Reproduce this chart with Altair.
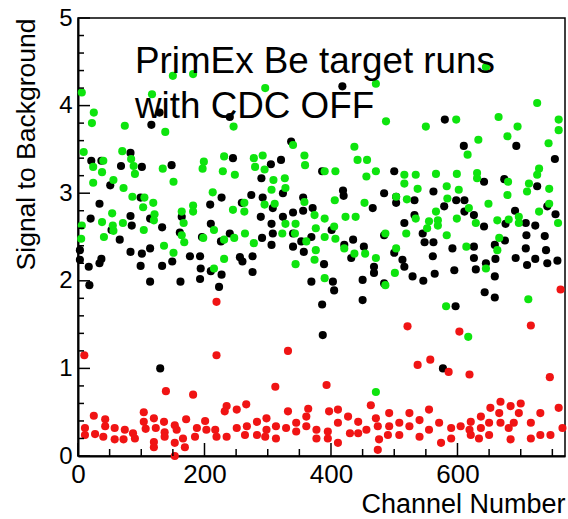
import altair as alt
import pandas as pd

# ---------------- data ----------------
black_ch = [116,129,21,37,68,83,101,148,51,34,99,20,83,85,53,66,114,133,3,3,37,34,17,83,101,99,114,133,149,18,114,130,
            245,305,290,227,209,274,259,292,289,306,164,161,210,196,226,240,291,306,177,193,194,193,162,210,227,223,256,260,276,276,240,
            418,337,321,386,419,420,324,356,308,356,340,371,324,340,369,401,308,353,340,357,421,435,432,452,389,369,403,405,450,450,386,387,
            580,610,500,484,503,503,532,562,598,611,611,466,579,516,532,545,548,562,592,484,500,513,516,561,468,468,484,529,546,564,595,597,577,
            693,754,642,674,726,742,626,642,676,691,708,723,755,709,738,675,659,626,626,660,692,708,710,723,740,742,758,629,645,659,643,659]
black_val = [3.78,3.92,3.37,3.37,3.31,3.46,3.30,3.32,3.09,2.88,2.95,2.71,2.74,2.63,2.58,2.47,2.71,2.61,2.35,2.24,2.25,2.20,2.16,2.33,2.31,2.17,2.37,2.17,2.22,1.95,1.99,1.00,
             3.40,3.33,3.17,2.95,2.87,2.98,2.89,2.95,2.73,2.65,2.73,2.55,2.65,2.50,2.45,2.54,2.49,2.41,2.28,2.28,2.14,2.02,1.99,2.11,2.07,1.93,2.27,2.22,2.28,2.10,3.87,
             4.22,3.59,3.38,3.25,3.03,2.97,3.00,2.95,2.83,2.80,2.78,2.83,2.73,2.54,2.50,2.58,2.54,2.45,2.39,2.33,2.41,2.47,2.26,2.39,2.19,1.99,1.99,1.89,2.01,1.78,1.73,1.38,
             3.84,3.54,3.25,3.00,2.96,2.89,2.92,3.02,2.92,2.92,2.79,2.83,2.85,2.66,2.75,2.54,2.44,2.44,2.37,2.52,2.32,2.24,2.16,2.28,2.16,2.09,1.97,2.05,2.00,2.08,2.12,1.71,1.00,
             3.54,3.39,3.13,3.16,3.08,2.85,2.75,2.62,2.65,2.80,2.66,2.63,2.76,2.52,2.51,2.46,2.41,2.39,2.26,2.25,2.26,2.37,2.18,2.25,2.35,2.20,2.23,2.13,2.20,2.05,1.87,1.81]

green_ch = [6,150,182,117,25,22,74,138,9,70,24,40,38,84,88,90,24,56,72,134,151,86,105,119,103,121,120,54,38,71,55,56,6,5,41,104,136,151,
            296,246,231,199,197,229,248,278,292,280,295,309,213,182,182,164,167,164,168,198,215,231,247,245,263,263,264,278,295,306,231,215,
            340,358,359,437,442,457,456,390,407,327,328,311,358,406,453,374,390,423,439,328,344,376,405,323,343,390,407,361,421,437,454,376,374,344,390,471,
            471,487,550,598,616,471,516,516,534,566,599,583,602,537,503,520,584,618,566,534,555,569,552,569,599,486,519,583,614,503,471,501,486,582,617,
            645,726,665,695,679,760,760,633,744,729,726,631,631,680,679,713,710,745,745,729,649,663,681,697,697,629,759,666,663,645,712]
green_val = [4.15,4.34,4.36,4.13,3.92,3.80,3.77,3.70,3.47,3.48,3.30,3.37,3.24,3.39,3.31,3.22,3.12,3.15,3.06,3.28,3.13,2.96,2.95,2.89,2.84,2.76,2.69,2.77,2.67,2.66,2.63,2.57,2.63,2.48,2.50,2.58,2.40,2.32,
             4.20,3.76,3.42,3.36,3.28,3.25,3.21,3.40,3.43,3.30,3.27,3.15,3.01,2.86,2.79,2.79,2.66,2.52,2.44,2.49,2.58,2.47,2.49,2.81,2.89,2.79,2.54,2.43,2.87,3.04,2.25,2.14,
             3.55,3.43,3.32,3.53,3.38,3.38,3.19,3.25,3.25,3.17,3.06,2.88,2.90,2.92,2.89,2.75,2.71,2.73,2.73,2.65,2.65,2.60,2.62,2.54,2.54,2.50,2.48,2.45,2.37,2.31,2.31,2.35,2.24,2.19,2.03,0.73,
             4.25,3.82,3.76,3.84,3.44,3.25,3.21,3.11,3.21,3.22,3.22,3.08,3.04,3.05,2.96,2.93,2.94,2.83,2.79,2.71,2.68,2.69,2.60,2.63,2.71,2.54,2.54,2.52,2.39,2.37,2.26,2.09,1.95,1.71,1.36,
             4.44,4.03,3.87,3.76,3.65,3.84,3.72,3.61,3.57,3.28,3.21,3.23,3.17,3.13,2.98,3.11,3.02,3.05,2.88,2.79,2.88,2.69,2.70,2.73,2.66,2.66,2.66,2.49,2.35,2.14,1.79]

red_ch = [10,139,182,25,43,11,11,27,40,43,58,58,74,72,87,90,104,104,107,120,123,120,120,136,137,137,153,156,153,153,171,166,169,188,
          219,219,201,203,185,217,219,235,232,251,266,251,235,267,264,283,283,298,298,296,312,
          332,393,332,364,313,313,329,345,345,361,361,377,377,395,395,397,411,411,411,430,427,443,443,456,
          521,603,537,557,586,619,463,471,474,476,474,492,492,490,508,508,524,524,540,540,555,555,571,574,590,590,605,619,
          763,716,746,668,684,700,652,637,666,697,689,621,637,650,668,681,716,731,760,766,621,634,650,684,716,731,747]
red_val = [1.15,0.74,0.70,0.46,0.42,0.32,0.24,0.25,0.22,0.34,0.32,0.19,0.30,0.19,0.26,0.20,0.50,0.39,0.31,0.43,0.32,0.16,0.10,0.39,0.27,0.22,0.35,0.30,0.15,0.00,0.42,0.20,0.10,0.32,
           1.76,1.15,0.40,0.30,0.22,0.30,0.22,0.57,0.51,0.53,0.59,0.32,0.22,0.34,0.24,0.39,0.24,0.43,0.30,0.22,0.79,
           1.20,0.81,0.51,0.54,0.34,0.20,0.32,0.38,0.28,0.45,0.34,0.30,0.20,0.28,0.20,0.51,0.53,0.38,0.15,0.26,0.45,0.39,0.26,0.30,
           1.48,1.42,1.04,1.10,0.96,0.93,0.58,0.43,0.34,0.19,0.07,0.49,0.34,0.24,0.38,0.24,0.49,0.34,0.41,0.22,0.53,0.30,0.38,0.15,0.32,0.20,0.34,0.30,
           1.90,1.49,0.90,0.62,0.57,0.60,0.55,0.45,0.49,0.49,0.38,0.39,0.32,0.38,0.38,0.32,0.38,0.49,0.55,0.32,0.24,0.20,0.24,0.19,0.20,0.24,0.24]

x_labels = [0, 200, 400, 600]
y_labels = [0, 1, 2, 3, 4, 5]
x_minor = list(range(0, 800, 50))
y_minor = [round(i * 0.2, 1) for i in range(26)]
title_lines = ["PrimEx Be target runs", "with CDC OFF"]

# ---------------- chart ----------------
W, H = 487, 438
FONT = "Liberation Sans"

xscale = alt.Scale(domain=[0, 770], nice=False, zero=False)
yscale = alt.Scale(domain=[0, 5], nice=False, zero=False)

xaxis = alt.Axis(values=x_labels, grid=False, ticks=False, tickSize=0, labelFontSize=26, labelFont=FONT,
                 labelColor="black", labelPadding=5, domainColor="black", domainWidth=2,
                 title="Channel Number", titleFont=FONT, titleFontSize=27, titleFontWeight="normal",
                 titleColor="black", titleX=W, titleY=56, titleAlign="right", titleBaseline="alphabetic",
                 labelFlush=False, labelOverlap=False)
yaxis = alt.Axis(values=y_labels, grid=False, ticks=False, tickSize=0, labelFontSize=24, labelFont=FONT,
                 labelColor="black", labelPadding=6, domainColor="black", domainWidth=2,
                 title="Signal to Background", titleFont=FONT, titleFontSize=26.5, titleFontWeight="normal",
                 titleColor="black", titleX=-44, titleY=0, titleAlign="right", titleAngle=270,
                 titleBaseline="alphabetic", labelFlush=False, labelOverlap=False)

X = alt.X("ch:Q", scale=xscale, axis=xaxis)
Y = alt.Y("v:Q", scale=yscale, axis=yaxis)


def pts(chs, vals, color):
    df = pd.DataFrame({"ch": chs, "v": vals})
    return alt.Chart(df).mark_circle(size=66, opacity=1, color=color).encode(x=X, y=Y)


black = pts(black_ch, black_val, "#000000")
green = pts(green_ch, green_val, "#0ee40e")
red = pts(red_ch, red_val, "#f01414")

xmaj = alt.Chart(pd.DataFrame({"ch": [c for c in x_minor if c % 200 == 0]})).mark_rule(
    color="black", strokeWidth=1.5).encode(x=X, y=alt.value(H), y2=alt.value(H - 13))
xmin = alt.Chart(pd.DataFrame({"ch": [c for c in x_minor if c % 200 != 0]})).mark_rule(
    color="black", strokeWidth=1.5).encode(x=X, y=alt.value(H), y2=alt.value(H - 7))
ymaj = alt.Chart(pd.DataFrame({"v": [v for v in y_minor if abs(v - round(v)) < 1e-6]})).mark_rule(
    color="black", strokeWidth=1.5).encode(y=Y, x=alt.value(0), x2=alt.value(12))
ymin = alt.Chart(pd.DataFrame({"v": [v for v in y_minor if abs(v - round(v)) > 1e-6]})).mark_rule(
    color="black", strokeWidth=1.5).encode(y=Y, x=alt.value(0), x2=alt.value(6))

t1 = alt.Chart(pd.DataFrame({"t": [title_lines[0]]})).mark_text(
    align="left", baseline="alphabetic", font=FONT, fontSize=36.8, color="black").encode(
    text="t:N", x=alt.value(57), y=alt.value(55))
t2 = alt.Chart(pd.DataFrame({"t": [title_lines[1]]})).mark_text(
    align="left", baseline="alphabetic", font=FONT, fontSize=36.8, color="black").encode(
    text="t:N", x=alt.value(57), y=alt.value(100))

chart = alt.layer(black, green, red, xmaj, xmin, ymaj, ymin, t1, t2).properties(
    width=W, height=H,
    autosize=alt.AutoSizeParams(type="none"),
    padding={"left": 78, "top": 18, "right": 3, "bottom": 63},
    background="white",
).configure_view(stroke="black", strokeWidth=1.5)

chart.save("out.html", embed_options={"renderer": "svg", "actions": False})
